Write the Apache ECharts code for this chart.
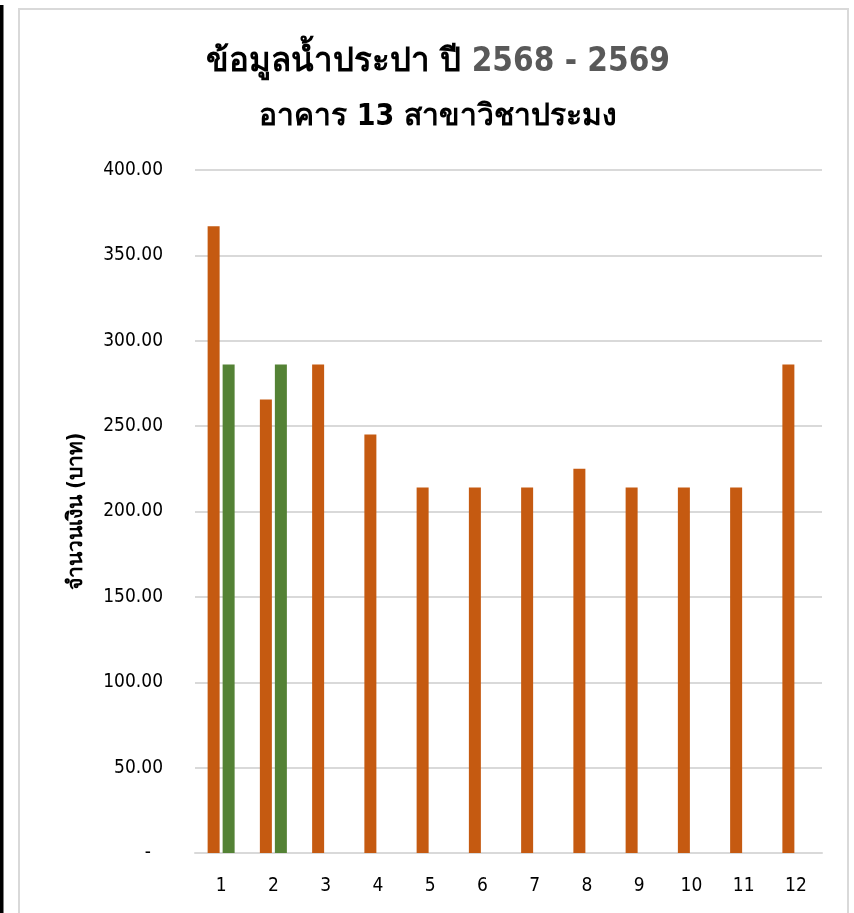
<!DOCTYPE html>
<html>
<head>
<meta charset="utf-8">
<script src="https://cdn.jsdelivr.net/npm/echarts@6/dist/echarts.min.js"></script>
<style>
  html, body { margin: 0; padding: 0; background: #fff; }
  #chart { width: 854px; height: 913px; }
</style>
</head>
<body>
<div id="chart"></div>
<script>
  // เดือน 1-12
  const months = ['1', '2', '3', '4', '5', '6', '7', '8', '9', '10', '11', '12']
  // ค่าน้ำประปา (บาท) ปีแรก - แท่งสีส้ม
  const billA = [367.1, 265.6, 286.1, 245.1, 214.1, 214.1, 214.1, 225.1, 214.1, 214.1, 214.1, 286.1]
  // ค่าน้ำประปา (บาท) ปีถัดไป - แท่งสีเขียว
  const billB = [286.1, 286.1, null, null, null, null, null, null, null, null, null, null]
  const yTicks = { min: 0, max: 400, step: 50 }

  const font = "Tahoma, 'DejaVu Sans Condensed', 'Noto Sans', sans-serif"

  const chart = echarts.init(document.getElementById('chart'))
  const option = {
    backgroundColor: '#fff',
    animation: false,
    title: {
      text: '{a|ข้อมูลน้ำประปา ปี }{b|2568 - 2569}\n{c|อาคาร 13 สาขาวิชาประมง}',
      left: 433,
      top: 30,
      textAlign: 'center',
      textStyle: {
        rich: {
          a: { fontSize: 33, fontWeight: 'bold', color: '#000', fontFamily: font, lineHeight: 55 },
          b: { fontSize: 33, fontWeight: 'bold', color: '#595959', fontFamily: font, lineHeight: 55 },
          c: { fontSize: 30, fontWeight: 'bold', color: '#000', fontFamily: font, lineHeight: 55 }
        }
      }
    },
    graphic: [
      // แถบดำด้านซ้าย
      { type: 'rect', shape: { x: 0, y: 5, width: 3.5, height: 920 }, style: { fill: '#000' }, silent: true },
      // กรอบแผนภูมิ
      { type: 'rect', shape: { x: 19, y: 9, width: 829, height: 930 }, style: { fill: 'none', stroke: '#d9d9d9', lineWidth: 2 }, silent: true }
    ],
    grid: {
      left: 195,
      right: 32,
      top: 170,
      bottom: 60
    },
    xAxis: {
      type: 'category',
      data: months,
      axisLine: { lineStyle: { color: '#d9d9d9', width: 2 } },
      axisTick: { show: false },
      axisLabel: { color: '#000', fontSize: 19, fontFamily: font, margin: 24 }
    },
    yAxis: {
      type: 'value',
      min: yTicks.min,
      max: yTicks.max,
      interval: yTicks.step,
      name: 'จำนวนเงิน (บาท)',
      nameLocation: 'middle',
      nameGap: 108,
      nameRotate: 90,
      nameTextStyle: { color: '#000', fontSize: 21, fontWeight: 'bold', fontFamily: font },
      axisLine: { show: false },
      axisTick: { show: false },
      splitLine: { lineStyle: { color: '#d9d9d9', width: 2 } },
      axisLabel: {
        color: '#000',
        fontSize: 19,
        fontFamily: font,
        margin: 32,
        formatter: function (value) {
          // แบบบัญชีของ Excel: ศูนย์แสดงเป็นขีด
          return value === 0 ? '{z|-}' : value.toFixed(2)
        },
        rich: {
          z: { color: '#000', fontSize: 19, fontFamily: font, padding: [0, 12, 0, 0] }
        }
      }
    },
    series: [{
      name: '2568',
      type: 'bar',
      data: billA,
      barWidth: 12,
      barGap: '25%',
      itemStyle: { color: '#C55A11' }
    }, {
      name: '2569',
      type: 'bar',
      data: billB,
      barWidth: 12,
      itemStyle: { color: '#548235' }
    }]
  }
  chart.setOption(option)
</script>
</body>
</html>
